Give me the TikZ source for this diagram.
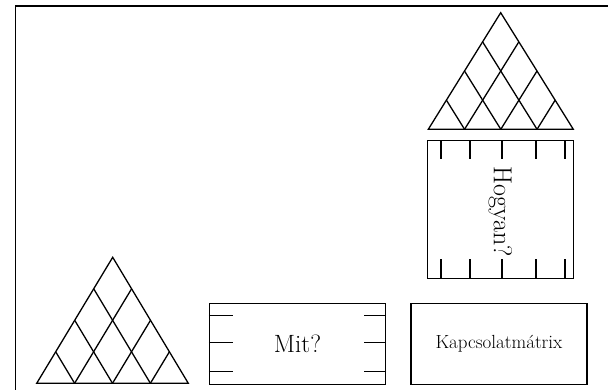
\documentclass[tikz,border=0pt]{standalone}
\usepackage{fontspec}
\usepackage{tikz}
\usetikzlibrary{calc, positioning}

\tikzset{
  box/.style={draw, line width=1.3pt, inner sep=0pt, minimum width=176pt, minimum height=81pt},
  bigtext/.style={font=\fontsize{25}{30}\selectfont}
}

\begin{document}
\begin{tikzpicture}[x=1pt, y=-1pt, line width=1.3pt]
\useasboundingbox (0,0) rectangle (608,390);

% Frame (top and left only)
\draw (15.7,390) -- (15.7,6) -- (608,6);

% Upper triangle
\coordinate (ua) at (500.7,12.7);
\coordinate (ul) at (428.3,129.3);
\coordinate (ur) at (573.3,129.3);
\draw (ua) -- (ul) -- (ur) -- cycle;
\foreach \i/\j in {1/3,2/2,3/1} {
  \draw ($(ul)!\i/4!(ur)$) -- ($(ul)!\i/4!(ua)$);
  \draw ($(ul)!\i/4!(ur)$) -- ($(ur)!\j/4!(ua)$);
}

% Lower triangle
\coordinate (la) at (112.7,257.3);
\coordinate (ll) at (36.7,383.3);
\coordinate (lr) at (188.3,383.3);
\draw (la) -- (ll) -- (lr) -- cycle;
\foreach \i/\j in {1/3,2/2,3/1} {
  \draw ($(ll)!\i/4!(lr)$) -- ($(ll)!\i/4!(la)$);
  \draw ($(ll)!\i/4!(lr)$) -- ($(lr)!\j/4!(la)$);
}

% Hogyan? box
\node[box, minimum width=146pt, minimum height=137.6pt] (hogyan) at (500.3,209.5) {};
\node[font=\fontsize{26}{30}\selectfont, rotate=-90] (hogyanlabel) at ([yshift=-2pt]hogyan.center) {Hogyan?};
\foreach \dx in {14.4,43.4,75.4,109.4,138.4} {
  \draw (hogyan.north west) ++(\dx,0) -- ++(0,19);
  \draw (hogyan.south west) ++(\dx,0) -- ++(0,-20);
}

% Mit? box
\node[box, bigtext] (mit) at (297.5,343.8) {Mit?};
\foreach \dy in {12.7,40,69} {
  \draw (mit.north west) ++(0,\dy) -- ++(24,0);
  \draw (mit.north east) ++(0,\dy) -- ++(-22,0);
}

% Kapcsolatmatrix box
\node[box, font=\fontsize{19}{23}\selectfont] (kapcs) at (499,343.7) {Kapcsolatmátrix};
\end{tikzpicture}
\end{document}
